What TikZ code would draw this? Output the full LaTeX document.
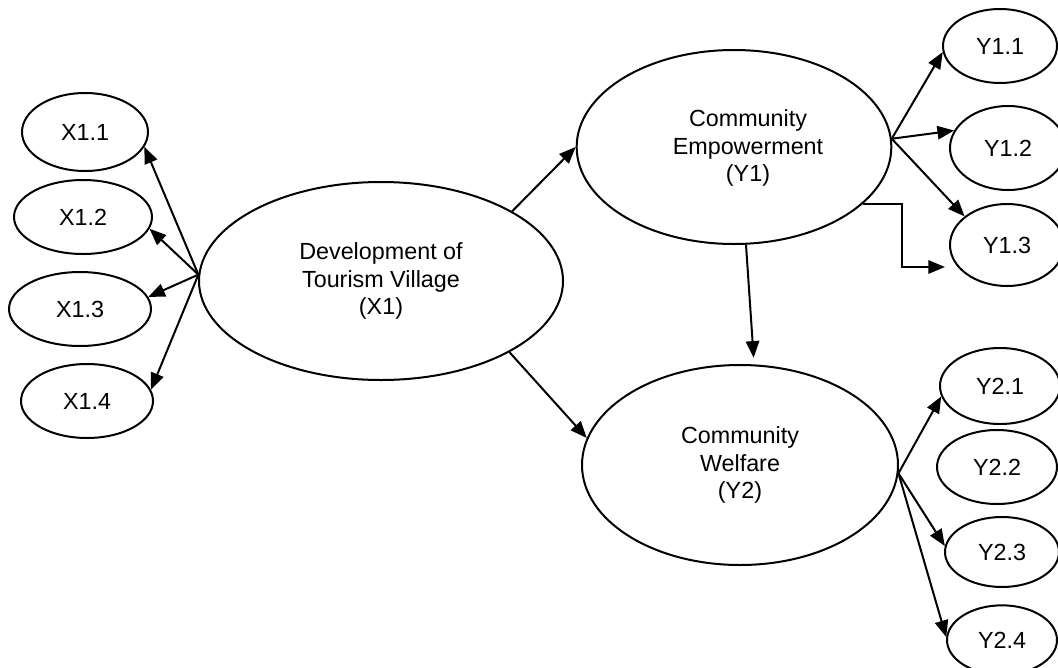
\documentclass[tikz,border=0pt]{standalone}
\usepackage{fontspec}
\setmainfont{Liberation Sans}
\usetikzlibrary{shapes.geometric,arrows.meta}
\tikzset{
  ell/.style={ellipse, draw, line width=1.5pt, inner sep=0pt, align=center},
  arr/.style={-{Triangle[length=12.5pt,width=10pt]}, line width=1.5pt},
}
\begin{document}
\begin{tikzpicture}[x=0.75pt,y=-0.75pt,font=\fontsize{17.5}{20.5}\selectfont]
\useasboundingbox (0,0) rectangle (1058,668);
\node[ell, minimum width=94.5pt, minimum height=58.5pt] (X11) at (85,132) {X1.1};
\node[ell, minimum width=103.5pt, minimum height=55.5pt] (X12) at (83,217) {X1.2};
\node[ell, minimum width=106.5pt, minimum height=55.5pt] (X13) at (80,309) {X1.3};
\node[ell, minimum width=99pt, minimum height=55.5pt] (X14) at (87,401) {X1.4};
\node[ell, minimum width=273pt, minimum height=148.5pt] (X1) at (381,281) {Development of\\Tourism Village\\(X1)};
\node[ell, minimum width=236pt, minimum height=145.5pt] (Y1) at (734,147) {};
\node[align=center] (Y1txt) at (748,148) {Community\\Empowerment\\(Y1)};
\node[ell, minimum width=237pt, minimum height=150pt] (Y2) at (740,465) {Community\\Welfare\\(Y2)};
\node[ell, minimum width=85.5pt, minimum height=55.5pt] (Y11) at (1000,46) {Y1.1};
\node[ell, minimum width=87pt, minimum height=63pt] (Y12) at (1008,148) {Y1.2};
\node[ell, minimum width=85.5pt, minimum height=61.5pt] (Y13) at (1007,245) {Y1.3};
\node[ell, minimum width=90pt, minimum height=57pt] (Y21) at (1000,386) {Y2.1};
\node[ell, minimum width=90pt, minimum height=55.5pt] (Y22) at (997,467) {Y2.2};
\node[ell, minimum width=85.5pt, minimum height=52.5pt] (Y23) at (1002,552) {Y2.3};
\node[ell, minimum width=82.5pt, minimum height=52pt] (Y24) at (1002,640) {Y2.4};
\coordinate (Y13in) at (945,267);
\draw[arr] (X1.178) -- (X11.-14);
\draw[arr] (X1.178) -- (X12.-10);
\draw[arr] (X1.178) -- (X13.10);
\draw[arr] (X1.178) -- (X14.10);
\draw[arr] (X1.28) -- (Y1.west);
\draw[arr] (X1.-29) -- (Y2.170);
\draw[arr, shorten >=5pt] (Y1.-83) -- (Y2.82);
\draw[arr] (Y1.3) -- (Y11.-174);
\draw[arr] (Y1.3) -- (Y12.162);
\draw[arr] (Y1.3) -- (Y13.146);
\draw[arr] (Y1.-24) -- ++(39,0) |- (Y13in);
\draw[arr] (Y2.-3) -- (Y21.-170);
\draw[arr] (Y2.-3) -- (Y23.174);
\draw[arr] (Y2.-3) -- (Y24.177);
\end{tikzpicture}
\end{document}
